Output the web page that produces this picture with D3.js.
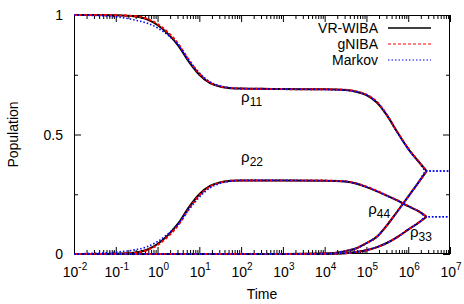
<!DOCTYPE html>
<html>
<head>
<meta charset="utf-8">
<script src="https://cdn.jsdelivr.net/npm/d3@7"></script>
<style>
  body { margin: 0; background: #fff; }
  svg { display: block; }
</style>
</head>
<body>
<svg id="chart" width="464" height="304"></svg>
<script>
const timePts = [0.01, 0.03, 0.1, 0.3, 0.56, 1, 1.8, 3.2, 5.6, 10, 18, 32, 56, 100, 316, 1000,
  1e4, 3.16e4, 5.6e4, 1e5, 1.8e5, 3.16e5, 5.6e5, 1e6, 1.8e6, 2.75e6];
const markovTimePts = timePts.concat([5e6, 1e7]);

const wibaRho11 = [1, 1, 0.999, 0.994, 0.982, 0.958, 0.92, 0.87, 0.805, 0.75, 0.715, 0.7, 0.694, 0.692, 0.691, 0.69,
  0.689, 0.686, 0.679, 0.665, 0.633, 0.578, 0.507, 0.44, 0.385, 0.347];
const wibaRho22 = [0, 0, 0.001, 0.006, 0.018, 0.042, 0.08, 0.13, 0.195, 0.25, 0.285, 0.3, 0.306, 0.308, 0.308, 0.308,
  0.307, 0.303, 0.295, 0.28, 0.262, 0.243, 0.223, 0.2, 0.178, 0.156];
const wibaRho33 = [0, 0, 0, 0, 0, 0, 0, 0, 0, 0, 0, 0, 0, 0, 0, 0,
  0.0005, 0.003, 0.008, 0.016, 0.029, 0.047, 0.072, 0.102, 0.132, 0.156];
const wibaRho44 = [0, 0, 0, 0, 0, 0, 0, 0, 0, 0, 0, 0, 0, 0, 0, 0,
  0.002, 0.012, 0.023, 0.045, 0.073, 0.122, 0.18, 0.24, 0.302, 0.347];

const gnibaRho11 = [1, 1, 0.999, 0.995, 0.984, 0.962, 0.926, 0.877, 0.812, 0.755, 0.718, 0.701, 0.695, 0.692, 0.691, 0.69,
  0.689, 0.687, 0.681, 0.667, 0.636, 0.58, 0.508, 0.442, 0.386, 0.347];
const gnibaRho22 = [0, 0, 0.001, 0.005, 0.016, 0.038, 0.074, 0.123, 0.188, 0.245, 0.282, 0.299, 0.306, 0.308, 0.308, 0.308,
  0.307, 0.304, 0.296, 0.282, 0.264, 0.244, 0.224, 0.201, 0.178, 0.156];
const gnibaRho33 = [0, 0, 0, 0, 0, 0, 0, 0, 0, 0, 0, 0, 0, 0, 0, 0,
  0.0005, 0.003, 0.008, 0.016, 0.029, 0.047, 0.072, 0.102, 0.132, 0.156];
const gnibaRho44 = [0, 0, 0, 0, 0, 0, 0, 0, 0, 0, 0, 0, 0, 0, 0, 0,
  0.002, 0.012, 0.023, 0.045, 0.073, 0.122, 0.18, 0.24, 0.302, 0.347];

const markovRho11 = [1, 0.998, 0.993, 0.978, 0.966, 0.946, 0.915, 0.872, 0.812, 0.758, 0.72, 0.703, 0.695, 0.692, 0.691, 0.69,
  0.688, 0.685, 0.679, 0.666, 0.634, 0.577, 0.506, 0.439, 0.384, 0.347, 0.347, 0.347];
const markovRho22 = [0, 0.003, 0.008, 0.018, 0.03, 0.052, 0.085, 0.128, 0.185, 0.238, 0.277, 0.296, 0.305, 0.308, 0.308, 0.308,
  0.307, 0.303, 0.295, 0.281, 0.263, 0.243, 0.223, 0.2, 0.178, 0.156, 0.156, 0.156];
const markovRho33 = [0, 0, 0, 0, 0, 0, 0, 0, 0, 0, 0, 0, 0, 0, 0, 0,
  0.0005, 0.003, 0.008, 0.016, 0.029, 0.047, 0.072, 0.102, 0.132, 0.156, 0.156, 0.156];
const markovRho44 = [0, 0, 0, 0, 0, 0, 0, 0, 0, 0, 0, 0, 0, 0, 0, 0,
  0.002, 0.012, 0.023, 0.045, 0.073, 0.122, 0.18, 0.24, 0.302, 0.347, 0.347, 0.347];

const xExponents = [-2, -1, 0, 1, 2, 3, 4, 5, 6, 7];
const yMajorTicks = [0, 0.5, 1];
const yMinorTicks = [0.25, 0.75];
const legendNames = ["VR-WIBA", "gNIBA", "Markov"];
const rhoLabels = [
  { sub: "11", t: 100, v: 0.636 },
  { sub: "22", t: 100, v: 0.385 },
  { sub: "44", t: 1.1e5, v: 0.167 },
  { sub: "33", t: 1.1e6, v: 0.071 }
];

const plotLeft = 74, plotRight = 450, plotTop = 15, plotBottom = 254;
const font = "'Liberation Sans', Arial, sans-serif";

let svg = d3.select("#chart");

let x = d3.scaleLog().domain([1e-2, 1e7]).range([plotLeft, plotRight]);
let y = d3.scaleLinear().domain([0, 1]).range([plotBottom, plotTop]);

let minorX = [];
xExponents.slice(0, -1).forEach(e => {
  for (let m = 2; m <= 9; m++) minorX.push(m * Math.pow(10, e));
});
let majorX = xExponents.map(e => Math.pow(10, e));

// ticks point inward on all four sides, like gnuplot
let tickGroups = [
  { axis: d3.axisBottom(x).tickValues(majorX).tickSize(-7), t: `translate(0,${plotBottom})` },
  { axis: d3.axisBottom(x).tickValues(minorX).tickSize(-4), t: `translate(0,${plotBottom})` },
  { axis: d3.axisTop(x).tickValues(majorX).tickSize(-7), t: `translate(0,${plotTop})` },
  { axis: d3.axisTop(x).tickValues(minorX).tickSize(-4), t: `translate(0,${plotTop})` },
  { axis: d3.axisLeft(y).tickValues(yMajorTicks).tickSize(-7), t: `translate(${plotLeft},0)` },
  { axis: d3.axisLeft(y).tickValues(yMinorTicks).tickSize(-4), t: `translate(${plotLeft},0)` },
  { axis: d3.axisRight(y).tickValues(yMajorTicks).tickSize(-7), t: `translate(${plotRight},0)` },
  { axis: d3.axisRight(y).tickValues(yMinorTicks).tickSize(-4), t: `translate(${plotRight},0)` }
];
tickGroups.forEach(g => {
  let el = svg.append("g").attr("transform", g.t).call(g.axis.tickFormat(""));
  el.select(".domain").remove();
  el.selectAll("line").attr("stroke", "#000").attr("stroke-width", 1);
});

svg.append("rect")
  .attr("x", plotLeft + 0.5)
  .attr("y", plotTop + 0.5)
  .attr("width", plotRight - plotLeft - 1)
  .attr("height", plotBottom - plotTop - 1)
  .attr("fill", "none")
  .attr("stroke", "#000")
  .attr("stroke-width", 1);

// tick labels
let xLabels = svg.selectAll(".xlab")
  .data(xExponents)
  .enter()
  .append("text")
  .attr("class", "xlab")
  .attr("x", e => x(Math.pow(10, e)) + 1)
  .attr("y", 277)
  .attr("text-anchor", "middle")
  .attr("font-family", font)
  .attr("font-size", "14px")
  .attr("fill", "#000");
xLabels.append("tspan").text("10");
xLabels.append("tspan").attr("dy", -7).attr("font-size", "10px").text(e => String(e));

svg.selectAll(".ylab")
  .data(yMajorTicks)
  .enter()
  .append("text")
  .attr("x", 63)
  .attr("y", v => y(v) + 5)
  .attr("text-anchor", "end")
  .attr("font-family", font)
  .attr("font-size", "14px")
  .attr("fill", "#000")
  .text(v => String(v));

svg.append("text")
  .attr("x", (plotLeft + plotRight) / 2)
  .attr("y", 299)
  .attr("text-anchor", "middle")
  .attr("font-family", font)
  .attr("font-size", "14px")
  .text("Time");

svg.append("text")
  .attr("transform", `translate(18,${(plotTop + plotBottom) / 2}) rotate(-90)`)
  .attr("text-anchor", "middle")
  .attr("font-family", font)
  .attr("font-size", "14px")
  .text("Population");

// curves
let line = d3.line()
  .x(d => x(d[0]))
  .y(d => y(d[1]))
  .curve(d3.curveMonotoneX);

let styles = [
  { color: "#000000", width: 2, dash: null },
  { color: "#ff0000", width: 2, dash: "3,2" },
  { color: "#0000ff", width: 1.6, dash: "1.5,2" }
];

let seriesSets = [
  { times: timePts, curves: [wibaRho11, wibaRho22, wibaRho33, wibaRho44], style: styles[0] },
  { times: timePts, curves: [gnibaRho11, gnibaRho22, gnibaRho33, gnibaRho44], style: styles[1] },
  { times: markovTimePts, curves: [markovRho11, markovRho22, markovRho33, markovRho44], style: styles[2] }
];

let plot = svg.append("g");
seriesSets.forEach(set => {
  plot.selectAll(null)
    .data(set.curves)
    .enter()
    .append("path")
    .attr("d", vals => line(vals.map((v, i) => [set.times[i], v])))
    .attr("fill", "none")
    .attr("stroke", set.style.color)
    .attr("stroke-width", set.style.width)
    .attr("stroke-dasharray", set.style.dash);
});

// rho labels
let rho = svg.selectAll(".rho")
  .data(rhoLabels)
  .enter()
  .append("text")
  .attr("x", d => x(d.t))
  .attr("y", d => y(d.v))
  .attr("font-family", font)
  .attr("font-size", "15px")
  .attr("fill", "#000");
rho.append("tspan").text("ρ");
rho.append("tspan").attr("dy", 4).attr("font-size", "12px").text(d => d.sub);

// legend
let legend = svg.selectAll(".legend")
  .data(legendNames)
  .enter()
  .append("g")
  .attr("transform", (d, i) => `translate(0,${33 + i * 16})`);
legend.append("text")
  .attr("x", 378)
  .attr("text-anchor", "end")
  .attr("font-family", font)
  .attr("font-size", "14px")
  .text(d => d);
legend.append("line")
  .attr("x1", 388)
  .attr("x2", 431)
  .attr("y1", -5)
  .attr("y2", -5)
  .attr("stroke", (d, i) => styles[i].color)
  .attr("stroke-width", (d, i) => i == 0 ? 1.5 : 1.2)
  .attr("stroke-dasharray", (d, i) => styles[i].dash);
</script>
</body>
</html>
